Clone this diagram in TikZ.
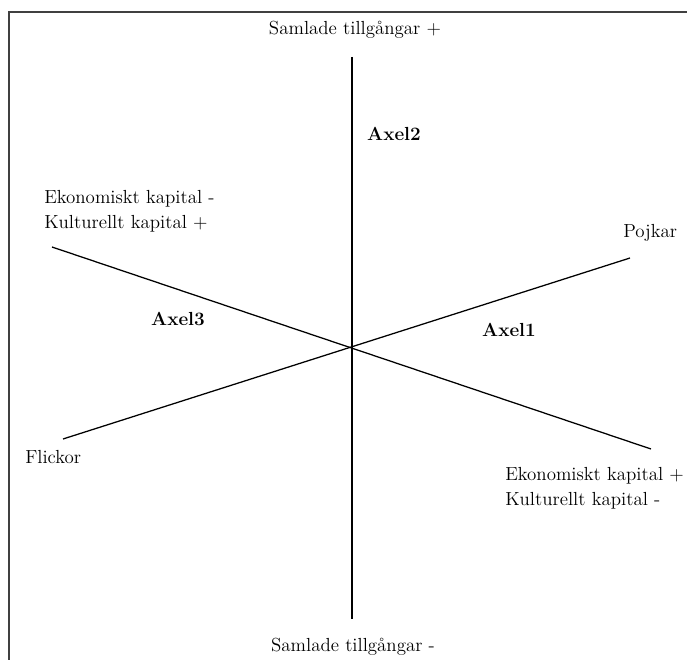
\documentclass[tikz,border=0pt]{standalone}
\begin{document}
\begin{tikzpicture}[x=0.75pt,y=-0.75pt,
  lbl/.style={inner sep=0pt,font=\fontsize{14.2}{19}\selectfont},
  axlbl/.style={inner sep=0pt,font=\fontsize{14.2}{19}\selectfont\bfseries},
  axis/.style={line width=0.95pt,black},
  frame/.style={line width=1.1pt,black!75}]
\useasboundingbox (0,0) rectangle (687,660);
% frame (only top and left sides visible)
\coordinate (fr1) at (687,12);
\coordinate (fr2) at (9,12);
\coordinate (fr3) at (9,662);
\draw[frame] (fr1) -- (fr2) -- (fr3);
% axis end points
\coordinate (vtop) at (352,57);
\coordinate (vbot) at (352,619);
\coordinate (flick) at (63,439);
\coordinate (pojk) at (630,258);
\coordinate (ekm) at (52,247);
\coordinate (ekp) at (651,449);
\draw[axis] (vtop) -- (vbot);
\draw[axis] (flick) -- (pojk);
\draw[axis] (ekm) -- (ekp);
% labels
\node[lbl] (st) at (355,30) {Samlade tillgångar +};
\node[lbl] (sb) at (353,647) {Samlade tillgångar -};
\node[axlbl] (a2) at (394,134) {Axel2};
\node[axlbl] (a3) at (178,319) {Axel3};
\node[axlbl] (a1) at (509,330) {Axel1};
\node[lbl,anchor=west] (pj) at (623,233) {Pojkar};
\node[lbl,anchor=west] (fl) at (25,457) {Flickor};
\node[lbl,anchor=north west,align=left] (ekl) at (44,190) {Ekonomiskt kapital -\\Kulturellt kapital +};
\node[lbl,anchor=north west,align=left] (ekr) at (505,467) {Ekonomiskt kapital +\\Kulturellt kapital -};
\end{tikzpicture}
\end{document}
